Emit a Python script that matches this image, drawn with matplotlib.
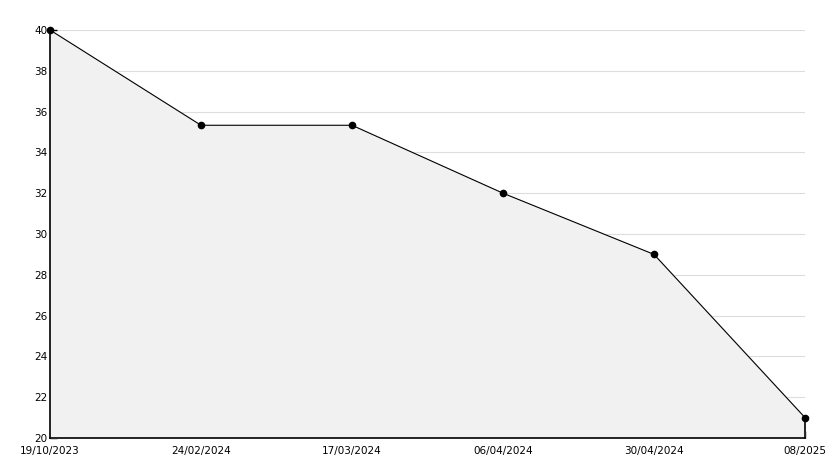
import matplotlib
matplotlib.use("Agg")
import matplotlib.pyplot as plt
from matplotlib.ticker import MultipleLocator

dates = ["19/10/2023", "24/02/2024", "17/03/2024", "06/04/2024", "30/04/2024", "08/2025"]
values = [40, 35.33, 35.33, 32, 29, 21]

fig = plt.figure(figsize=(8.34, 4.68), dpi=100)
ax = fig.add_axes([50/834, 1-438/468, (805-50)/834, (438-30)/468])
x = list(range(len(dates)))

ax.fill_between(x, values, 20, color="#f1f1f1", zorder=1)
ax.plot(x, values, color="black", lw=0.8, marker="o", ms=4.5, zorder=3, clip_on=False)
ax.plot([x[-1], x[-1]], [20, values[-1]], color="black", lw=1.2, zorder=3, clip_on=False)

ax.set_xlim(0, len(dates) - 1)
ax.set_ylim(20, 40)
ax.set_xticks(x)
ax.set_xticklabels(dates, fontsize=7.5)
ax.yaxis.set_major_locator(MultipleLocator(2))
ax.yaxis.set_minor_locator(MultipleLocator(1))
ax.tick_params(axis="both", which="major", direction="in", length=5, width=1, labelsize=7.5, pad=2)
ax.tick_params(axis="y", which="minor", direction="in", length=3, width=1)
ax.tick_params(axis="x", which="major", pad=5.5)
ax.grid(axis="y", which="major", color="#dddddd", lw=0.8, zorder=0)
ax.set_axisbelow(True)
for s in ["top", "right"]:
    ax.spines[s].set_visible(False)
for s in ["left", "bottom"]:
    ax.spines[s].set_linewidth(1.2)
ax.patch.set_visible(False)

fig.savefig("out.png", dpi=100)
